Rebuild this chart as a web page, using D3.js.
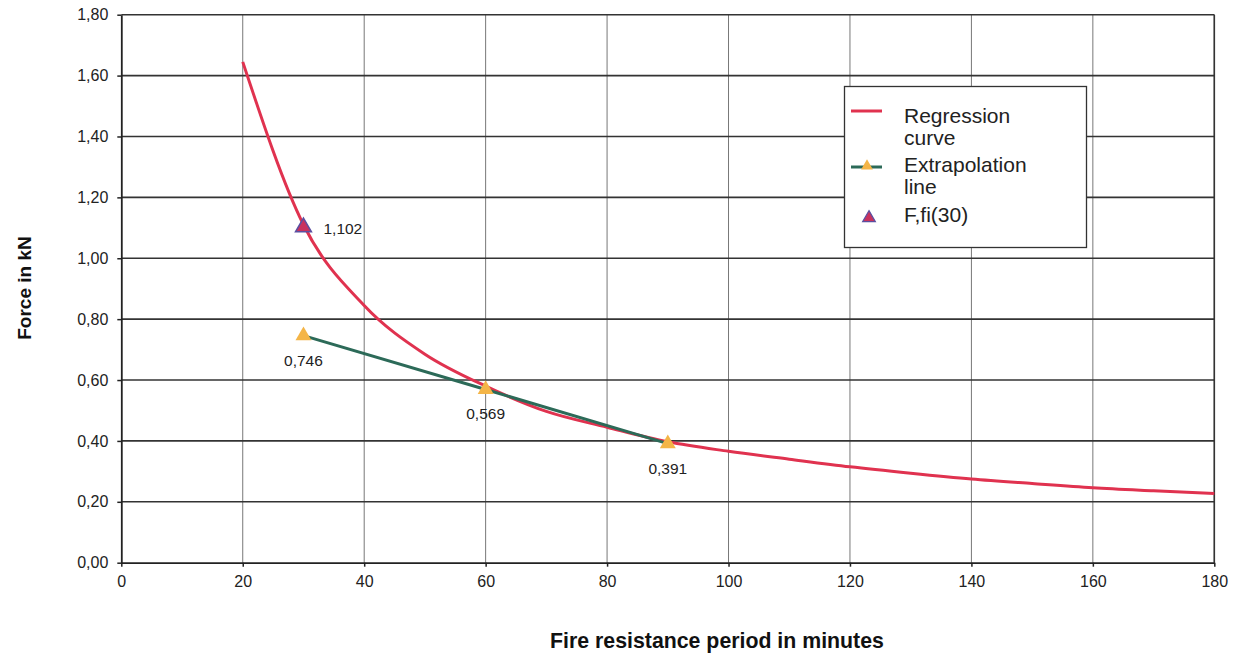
<!DOCTYPE html>
<html lang="en">
<head>
    <meta charset="UTF-8">
    <title>Force vs fire resistance period</title>
    <script src="https://d3js.org/d3.v7.min.js"></script>
    <style>
        body {
            margin: 0;
            background: #fff;
            font-family: "Liberation Sans", Arial, sans-serif;
        }
        svg text {
            font-family: "Liberation Sans", Arial, sans-serif;
        }
        .tick text {
            font-size: 16px;
            fill: #222;
        }
        .grid-h line {
            stroke: #333;
            stroke-width: 1.6px;
        }
        .grid-v line {
            stroke: #777;
            stroke-width: 1px;
        }
        .axis-title {
            font-size: 21.3px;
            font-weight: bold;
            fill: #111;
        }
        .data-label {
            font-size: 15.5px;
            fill: #222;
        }
        .legend text {
            font-size: 21px;
            fill: #222;
        }
    </style>
</head>
<body>
    <svg width="1243" height="654"></svg>

    <script>
        const regMinutes = [20, 30, 40, 50, 60, 70, 80, 90, 100, 110, 120, 130, 140, 150, 160, 170, 180];
        const regForce = [1.645, 1.11, 0.845, 0.685, 0.58, 0.497, 0.445, 0.397, 0.366, 0.34, 0.315, 0.294, 0.275, 0.26, 0.246, 0.236, 0.227];

        // extrapolation line points
        const extMinutes = [30, 60, 90];
        const extForce = [0.746, 0.569, 0.391];

        // F,fi(30)
        const fiMinutes = [30];
        const fiForce = [1.102];

        const xTicks = [0, 20, 40, 60, 80, 100, 120, 140, 160, 180];
        const yTicks = [0, 0.2, 0.4, 0.6, 0.8, 1.0, 1.2, 1.4, 1.6, 1.8];

        const svg = d3.select("svg"),
            width = +svg.attr("width"),
            height = +svg.attr("height");

        const margin = {top: 14.7, right: 28.7, bottom: 91.3, left: 121.3};
        const innerW = width - margin.left - margin.right;
        const innerH = height - margin.top - margin.bottom;

        const locale = d3.formatLocale({decimal: ",", thousands: ".", grouping: [3], currency: ["", "€"]});
        const f2 = locale.format(".2f");
        const f3 = locale.format(".3f");

        const x = d3.scaleLinear().domain([0, 180]).range([0, innerW]);
        const y = d3.scaleLinear().domain([0, 1.8]).range([innerH, 0]);

        const g = svg.append("g")
            .attr("transform", `translate(${margin.left},${margin.top})`);

        // vertical grid
        g.append("g")
            .attr("class", "grid-v")
            .selectAll("line")
            .data(xTicks.slice(1))
            .enter().append("line")
            .attr("x1", d => x(d)).attr("x2", d => x(d))
            .attr("y1", 0).attr("y2", innerH);

        // horizontal grid
        g.append("g")
            .attr("class", "grid-h")
            .selectAll("line")
            .data(yTicks.slice(1))
            .enter().append("line")
            .attr("x1", 0).attr("x2", innerW)
            .attr("y1", d => y(d)).attr("y2", d => y(d));

        // right border
        g.append("line")
            .attr("x1", innerW).attr("x2", innerW)
            .attr("y1", 0).attr("y2", innerH)
            .attr("stroke", "#333").attr("stroke-width", 1.6);

        // axes
        const xAxis = g.append("g")
            .attr("transform", `translate(0,${innerH})`)
            .call(d3.axisBottom(x).tickValues(xTicks).tickSize(4).tickPadding(8).tickSizeOuter(0));
        const yAxis = g.append("g")
            .call(d3.axisLeft(y).tickValues(yTicks).tickFormat(f2).tickSize(4).tickPadding(9).tickSizeOuter(0));

        [xAxis, yAxis].forEach(a => {
            a.attr("font-family", null).attr("font-size", null);
            a.select(".domain").attr("stroke", "#222").attr("stroke-width", 1.8);
            a.selectAll(".tick line").attr("stroke", "#222").attr("stroke-width", 1.5);
        });
        xAxis.selectAll(".tick text").attr("dy", "0.8em");

        // regression curve
        const regData = regMinutes.map((m, i) => ({m, f: regForce[i]}));
        const line = d3.line()
            .x(d => x(d.m))
            .y(d => y(d.f))
            .curve(d3.curveMonotoneX);

        g.append("path")
            .datum(regData)
            .attr("fill", "none")
            .attr("stroke", "#e0324f")
            .attr("stroke-width", 3)
            .attr("d", line);

        // extrapolation line
        const extData = extMinutes.map((m, i) => ({m, f: extForce[i]}));
        g.append("path")
            .datum(extData)
            .attr("fill", "none")
            .attr("stroke", "#2c6a58")
            .attr("stroke-width", 3)
            .attr("d", d3.line().x(d => x(d.m)).y(d => y(d.f)));

        const tri = d3.symbol().type(d3.symbolTriangle).size(110);

        g.selectAll(".ext-pt")
            .data(extData)
            .enter().append("path")
            .attr("class", "ext-pt")
            .attr("d", tri)
            .attr("transform", d => `translate(${x(d.m)},${y(d.f)})`)
            .attr("fill", "#f4b547");

        g.selectAll(".ext-label")
            .data(extData)
            .enter().append("text")
            .attr("class", "data-label")
            .attr("x", d => x(d.m))
            .attr("y", d => y(d.f) + 30)
            .attr("text-anchor", "middle")
            .text(d => f3(d.f));

        // F,fi(30)
        const fiData = fiMinutes.map((m, i) => ({m, f: fiForce[i]}));
        g.selectAll(".fi-pt")
            .data(fiData)
            .enter().append("path")
            .attr("d", tri)
            .attr("transform", d => `translate(${x(d.m)},${y(d.f)})`)
            .attr("fill", "#c8325e")
            .attr("stroke", "#5b4fa0")
            .attr("stroke-width", 1.5);

        g.selectAll(".fi-label")
            .data(fiData)
            .enter().append("text")
            .attr("class", "data-label")
            .attr("x", d => x(d.m) + 20)
            .attr("y", d => y(d.f) + 7)
            .text(d => f3(d.f));

        // axis titles
        svg.append("text")
            .attr("class", "axis-title")
            .attr("x", 717)
            .attr("y", 648)
            .attr("text-anchor", "middle")
            .text("Fire resistance period in minutes");

        svg.append("text")
            .attr("class", "axis-title")
            .attr("transform", "translate(31,288) rotate(-90)")
            .attr("text-anchor", "middle")
            .style("font-size", "19px")
            .text("Force in kN");

        // legend
        const legend = svg.append("g").attr("class", "legend");
        legend.append("rect")
            .attr("x", 844.5).attr("y", 86.5)
            .attr("width", 242).attr("height", 161)
            .attr("fill", "#fff")
            .attr("stroke", "#333")
            .attr("stroke-width", 1.3);

        legend.append("line")
            .attr("x1", 851).attr("x2", 882).attr("y1", 111).attr("y2", 111)
            .attr("stroke", "#e0324f").attr("stroke-width", 3);
        legend.append("line")
            .attr("x1", 851).attr("x2", 882).attr("y1", 167).attr("y2", 167)
            .attr("stroke", "#2c6a58").attr("stroke-width", 3);
        legend.append("path")
            .attr("d", d3.symbol().type(d3.symbolTriangle).size(60))
            .attr("transform", "translate(867,166)")
            .attr("fill", "#f4b547");
        legend.append("path")
            .attr("d", d3.symbol().type(d3.symbolTriangle).size(70))
            .attr("transform", "translate(869,218)")
            .attr("fill", "#c8325e")
            .attr("stroke", "#5b4fa0")
            .attr("stroke-width", 1.2);

        const legendLines = [
            ["Regression", 122.5],
            ["curve", 145],
            ["Extrapolation", 171.5],
            ["line", 193.5],
            ["F,fi(30)", 221.5]
        ];
        legend.selectAll("text.item")
            .data(legendLines)
            .enter().append("text")
            .attr("class", "item")
            .attr("x", 904)
            .attr("y", d => d[1])
            .text(d => d[0]);
    </script>
</body>
</html>
